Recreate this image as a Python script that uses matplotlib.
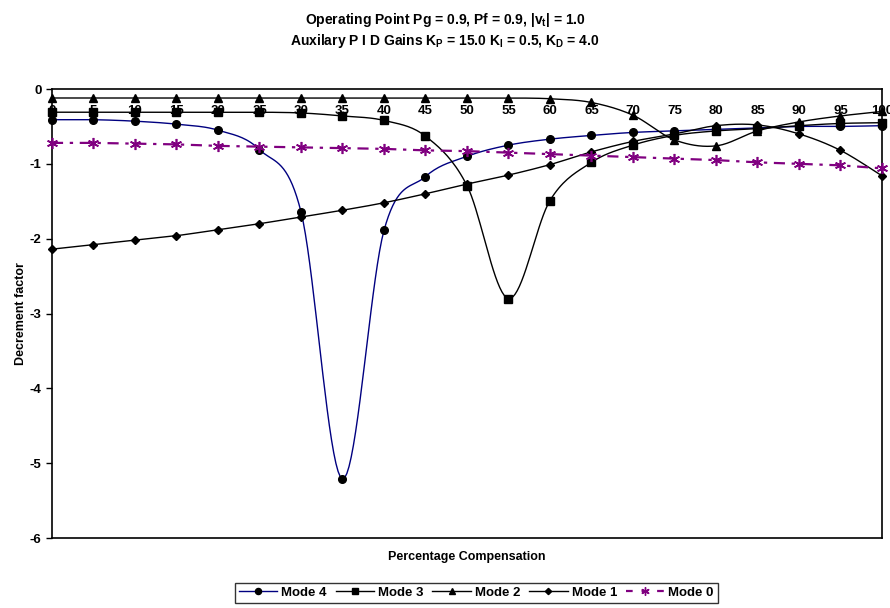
import numpy as np
import matplotlib
matplotlib.use('Agg')
import matplotlib.pyplot as plt
from matplotlib.lines import Line2D

plt.rcParams['font.family'] = ['Liberation Sans', 'DejaVu Sans']
plt.rcParams['font.weight'] = 'bold'
plt.rcParams['axes.unicode_minus'] = False
plt.rcParams['mathtext.fontset'] = 'custom'
plt.rcParams['mathtext.rm'] = 'Liberation Sans:bold'
plt.rcParams['mathtext.bf'] = 'Liberation Sans:bold'
plt.rcParams['mathtext.it'] = 'Liberation Sans:bold'

comp = [0, 5, 10, 15, 20, 25, 30, 35, 40, 45, 50, 55, 60, 65, 70, 75, 80, 85, 90, 95, 100]
mode4 = [-0.41, -0.41, -0.43, -0.47, -0.55, -0.81, -1.64, -5.21, -1.89, -1.17, -0.90,
         -0.75, -0.67, -0.62, -0.58, -0.56, -0.54, -0.52, -0.50, -0.50, -0.49]
mode3 = [-0.31, -0.31, -0.31, -0.31, -0.31, -0.31, -0.32, -0.36, -0.42, -0.63, -1.29,
         -2.80, -1.49, -0.98, -0.75, -0.62, -0.56, -0.53, -0.49, -0.46, -0.45]
mode2 = [-0.12, -0.12, -0.12, -0.12, -0.12, -0.12, -0.12, -0.12, -0.12, -0.12, -0.12,
         -0.12, -0.13, -0.18, -0.35, -0.68, -0.76, -0.56, -0.44, -0.36, -0.30]
mode1 = [-2.14, -2.08, -2.02, -1.96, -1.88, -1.80, -1.71, -1.62, -1.52, -1.40, -1.27,
         -1.15, -1.01, -0.84, -0.70, -0.60, -0.49, -0.48, -0.60, -0.82, -1.16]
mode0 = [-0.72, -0.72, -0.73, -0.74, -0.76, -0.77, -0.78, -0.79, -0.80, -0.82, -0.83,
         -0.85, -0.87, -0.89, -0.91, -0.93, -0.95, -0.98, -1.00, -1.02, -1.06]


def smooth(x, y, n=20):
    # Excel-like smoothed line: cubic bezier with catmull-rom control points
    x = np.asarray(x, float)
    y = np.asarray(y, float)
    px = np.concatenate([[x[0]], x, [x[-1]]])
    py = np.concatenate([[y[0]], y, [y[-1]]])
    xs, ys = [], []
    t = np.linspace(0, 1, n)
    for i in range(1, len(px) - 2):
        p0 = np.array([px[i], py[i]])
        p3 = np.array([px[i + 1], py[i + 1]])
        p1 = p0 + (p3 - np.array([px[i - 1], py[i - 1]])) / 6
        p2 = p3 - (np.array([px[i + 2], py[i + 2]]) - p0) / 6
        b = ((1 - t) ** 3)[:, None] * p0 + (3 * (1 - t) ** 2 * t)[:, None] * p1 \
            + (3 * (1 - t) * t ** 2)[:, None] * p2 + (t ** 3)[:, None] * p3
        xs.extend(b[:, 0])
        ys.extend(b[:, 1])
    return xs, ys


fig = plt.figure(figsize=(8.9, 6.08), dpi=100)
ax = fig.add_axes([0.0584, 0.1151, 0.9326, 0.7385])

series = [
    (mode4, 'Mode 4', '#000080', 'o', 5.5),
    (mode3, 'Mode 3', 'black', 's', 5.5),
    (mode2, 'Mode 2', 'black', '^', 5.5),
    (mode1, 'Mode 1', 'black', 'D', 4),
]
handles = []
for vals, name, col, mk, ms in series:
    sx, sy = smooth(comp, vals)
    ax.plot(sx, sy, color=col, lw=1, clip_on=False, zorder=2)
    ax.plot(comp, vals, ls='none', marker=mk, ms=ms, color='black', clip_on=False, zorder=3)
    handles.append(Line2D([], [], color=col, lw=1, marker=mk, ms=ms * 0.8,
                          markerfacecolor='black', markeredgecolor='black'))

ax.plot(comp, mode0, color='#800080', lw=1.6, dashes=(5, 3, 1.5, 3), clip_on=False, zorder=2)
ax.plot(comp, mode0, ls='none', marker=(6, 2, 0), ms=8, mew=1.2, color='#800080',
        clip_on=False, zorder=3)
handles.append(Line2D([], [], color='#800080', lw=1.6, dashes=(3, 4), marker=(6, 2, 0),
                      ms=6, mew=1.0))

ax.set_xlim(0, 100)
ax.set_ylim(-6, 0)
ax.set_xticks(comp)
ax.set_xticklabels([str(c) for c in comp])
ax.set_yticks([0, -1, -2, -3, -4, -5, -6])
ax.tick_params(axis='x', top=True, labeltop=True, bottom=False, labelbottom=False,
               length=0, pad=-20, labelsize=9.5)
ax.tick_params(axis='y', direction='out', length=4, width=1, labelsize=9.5)
for s in ax.spines.values():
    s.set_linewidth(1.2)

ax.set_ylabel('Decrement factor', fontsize=9, fontweight='bold', labelpad=2)
ax.set_xlabel('Percentage Compensation', fontsize=9, fontweight='bold', labelpad=9)

fig.text(0.5, 0.967, r'Operating Point Pg = 0.9, Pf = 0.9, |v$_\mathrm{t}$| = 1.0',
         ha='center', va='center', fontsize=10, fontweight='bold')
fig.text(0.5, 0.932, r'Auxilary P I D Gains K$_\mathrm{P}$ = 15.0 K$_\mathrm{I}$ = 0.5, K$_\mathrm{D}$ = 4.0',
         ha='center', va='center', fontsize=10, fontweight='bold')

leg = fig.legend(handles, ['Mode 4', 'Mode 3', 'Mode 2', 'Mode 1', 'Mode 0'],
                 loc='center', bbox_to_anchor=(0.535, 0.025), ncol=5, fontsize=9.5,
                 frameon=True, fancybox=False, handlelength=2.9, handletextpad=0.3,
                 columnspacing=0.7, borderpad=0.3)
leg.get_frame().set_edgecolor('black')
leg.get_frame().set_linewidth(1)

fig.savefig('out.png', dpi=100)
